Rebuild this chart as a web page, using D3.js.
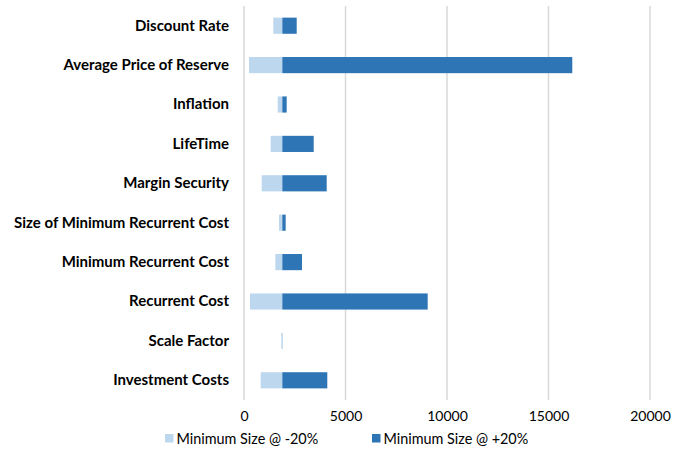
<!DOCTYPE html>
<html>
<head>
<meta charset="utf-8">
<script src="https://cdn.jsdelivr.net/npm/d3@7"></script>
<style>
  html, body { margin: 0; padding: 0; background: #fff; }
  svg { display: block; }
</style>
</head>
<body>
<svg id="chart" width="688" height="451"></svg>
<script>
// Sensitivity (tornado) of the minimum size to each input parameter
const categories = [
  "Discount Rate",
  "Average Price of Reserve",
  "Inflation",
  "LifeTime",
  "Margin Security",
  "Size of Minimum Recurrent Cost",
  "Minimum Recurrent Cost",
  "Recurrent Cost",
  "Scale Factor",
  "Investment Costs"
];
const baseValue = 1887;
const lowValues  = [1443, 246, 1660, 1315, 872, 1724, 1542, 296, 1840, 823];   // parameter at -20%
const highValues = [2596, 16172, 2103, 3433, 4073, 2053, 2857, 9049, 1887, 4103]; // parameter at +20%
const xTicks = [0, 5000, 10000, 15000, 20000];
const seriesNames = ["Minimum Size @ -20%", "Minimum Size @ +20%"];
const colors = ["#BDD7EE", "#2E75B6"];

const svg = d3.select("#chart");
const fontFamily = "Lato, 'Open Sans', sans-serif";

const x = d3.scaleLinear().domain([0, 20000]).range([244, 650]);
const y = d3.scaleBand().domain(categories).range([6, 400]).paddingInner(0.59).paddingOuter(0.295);

// gridlines
svg.append("g")
  .selectAll("line")
  .data(xTicks)
  .join("line")
  .attr("x1", d => x(d)).attr("x2", d => x(d))
  .attr("y1", 6).attr("y2", 400)
  .attr("stroke", "#d9d9d9")
  .attr("stroke-width", 1.5);

// bars: light from low value to base, dark from base to high value
const rows = categories.map((c, i) => ({ c, lo: lowValues[i], hi: highValues[i] }));

svg.append("g")
  .selectAll("rect")
  .data(rows)
  .join("rect")
  .attr("x", d => x(Math.min(d.lo, baseValue)))
  .attr("y", d => y(d.c))
  .attr("width", d => Math.max(1.5, Math.abs(x(baseValue) - x(d.lo))))
  .attr("height", y.bandwidth())
  .attr("fill", colors[0]);

svg.append("g")
  .selectAll("rect")
  .data(rows.filter(d => d.hi > baseValue))
  .join("rect")
  .attr("x", x(baseValue))
  .attr("y", d => y(d.c))
  .attr("width", d => x(d.hi) - x(baseValue))
  .attr("height", y.bandwidth())
  .attr("fill", colors[1]);

// category labels
const yAxis = svg.append("g")
  .attr("transform", "translate(229,0)")
  .call(d3.axisLeft(y).tickSize(0).tickPadding(0));
yAxis.select(".domain").remove();
yAxis.selectAll("text")
  .attr("font-family", fontFamily)
  .attr("font-size", "15px")
  .attr("font-weight", "bold")
  .attr("fill", "#000");

// x axis labels
const xAxis = svg.append("g")
  .attr("transform", "translate(0,400)")
  .call(d3.axisBottom(x).tickValues(xTicks).tickSize(0).tickPadding(11).tickFormat(d3.format("d")));
xAxis.select(".domain").remove();
xAxis.selectAll("text")
  .attr("font-family", fontFamily)
  .attr("font-size", "14px")
  .attr("fill", "#000");

// legend
const legendX = [165, 372];
const legend = svg.append("g");
seriesNames.forEach((name, i) => {
  legend.append("rect")
    .attr("x", legendX[i]).attr("y", 434)
    .attr("width", 8.5).attr("height", 8.5)
    .attr("fill", colors[i]);
  legend.append("text")
    .attr("x", legendX[i] + 11.5).attr("y", 443.5)
    .attr("font-family", fontFamily)
    .attr("font-size", "14.4px")
    .attr("fill", "#000")
    .text(name);
});
</script>
</body>
</html>
